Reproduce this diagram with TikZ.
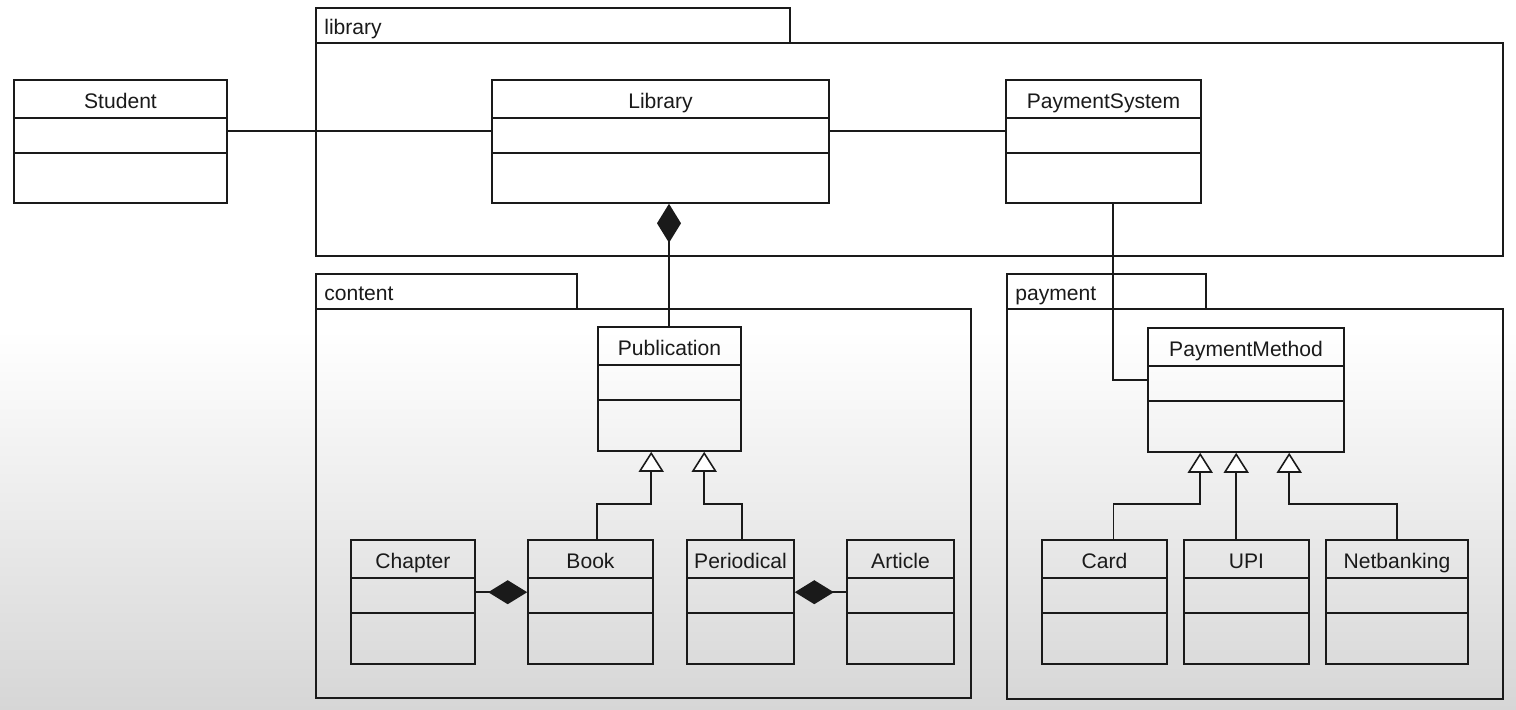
\documentclass[tikz,border=0pt]{standalone}
\usepackage{fontspec}
\setmainfont{Liberation Sans}
\usetikzlibrary{arrows.meta,fit,calc}
\definecolor{ink}{HTML}{1A1A1A}
\definecolor{bgbot}{HTML}{D6D6D6}
\tikzset{
  clsbox/.style={draw=ink, line width=0.9pt, inner sep=0pt},
  pkgbox/.style={draw=ink, line width=0.9pt, inner sep=0pt},
  lbl/.style={font=\fontsize{12}{14}\selectfont, text=ink, inner sep=0pt},
  conn/.style={draw=ink, line width=0.9pt},
  comp/.style={conn, -{Diamond[length=0.78cm, width=0.48cm, fill=ink]}},
  gen/.style={conn, -{Triangle[open, length=0.4cm, width=0.5cm, fill=white]}}
}
\newcommand{\umlcls}[6]{%
  \node[fit={(#2,#3) (#4,#5)}, clsbox] (#1) {};
  \node[lbl, anchor=base] (#1-t) at ({(#2+#4)/2},#3+28) {#6};
  \draw[ink, line width=0.9pt] (#2,#3+38) -- (#4,#3+38);
  \draw[ink, line width=0.9pt] (#2,#3+73) -- (#4,#3+73);
}
\newcommand{\umlpkg}[8]{%
  \node[fit={(#2,#3) (#4,#3+35)}, pkgbox] (#1-tab) {};
  \node[fit={(#2,#3+35) (#5,#6)}, pkgbox] (#1) {};
  \node[lbl, anchor=base west] (#1-l) at (#2+8,#3+26) {#7};
}
\begin{document}
\begin{tikzpicture}[x=0.02cm, y=-0.02cm]
\useasboundingbox (0,0) rectangle (1516,710);
\fill[white] (0,0) rectangle (1516,331);
\shade[top color=white, bottom color=bgbot] (0,330) rectangle (1516,710);

% packages
\umlpkg{library}{316}{8}{790}{1503}{256}{library}{}
\umlpkg{content}{316}{274}{577}{971}{698}{content}{}
\umlpkg{payment}{1007}{274}{1206}{1503}{699}{payment}{}

% classes
\umlcls{Student}{14}{80}{227}{203}{Student}
\umlcls{Library}{492}{80}{829}{203}{Library}
\umlcls{PaymentSystem}{1006}{80}{1201}{203}{PaymentSystem}
\umlcls{Publication}{598}{327}{741}{451}{Publication}
\umlcls{Chapter}{351}{540}{475}{664}{Chapter}
\umlcls{Book}{528}{540}{653}{664}{Book}
\umlcls{Periodical}{687}{540}{794}{664}{Periodical}
\umlcls{Article}{847}{540}{954}{664}{Article}
\umlcls{PaymentMethod}{1148}{328}{1344}{452}{PaymentMethod}
\umlcls{Card}{1042}{540}{1167}{664}{Card}
\umlcls{UPI}{1184}{540}{1309}{664}{UPI}
\umlcls{Netbanking}{1326}{540}{1468}{664}{Netbanking}

% associations
\draw[conn] (Student.north east) ++(0,52) coordinate (sl) -- (sl -| Library.west);
\draw[conn] (Library.north east) ++(0,52) coordinate (lp) -- (lp -| PaymentSystem.west);
\draw[conn] ([xshift=0.19cm]PaymentSystem.south) |- ($(PaymentMethod.north west)+(0,53)$);

% compositions
\draw[comp] (Publication.north -| 669,0) -- (Library.south -| 669,0);
\draw[comp] (Chapter.north east) ++(0,53) coordinate (cb) -- (cb -| Book.west);
\draw[comp] (Article.north west) ++(0,53) coordinate (pa) -- (pa -| Periodical.east);

% generalizations in content
\coordinate (pubA) at ($(Publication.south west)+(54,0)$);
\coordinate (pubB) at ($(Publication.south west)+(107,0)$);
\draw[gen] (Publication.west |- Book.north) -- ++(0,-35) -| (pubA);
\draw[gen] (Publication.east |- Periodical.north) -- ++(0,-35) -| (pubB);

% generalizations in payment
\coordinate (pmA) at ($(PaymentMethod.south west)+(53,0)$);
\coordinate (pmB) at ($(PaymentMethod.south west)+(89,0)$);
\coordinate (pmC) at ($(PaymentMethod.south west)+(142,0)$);
\draw[gen] ([xshift=0.18cm]Card.north) -- ++(0,-35) -| (pmA);
\draw[gen] (pmB |- UPI.north) -- (pmB);
\draw[gen] (Netbanking.north) -- ++(0,-35) -| (pmC);
\end{tikzpicture}
\end{document}
